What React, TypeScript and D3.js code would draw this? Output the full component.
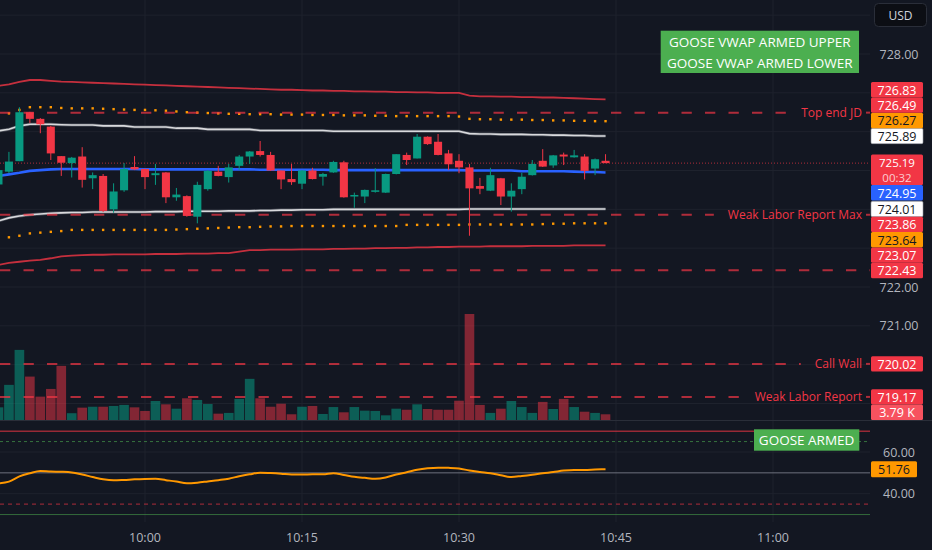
import * as d3 from "d3";

// 1-minute candles starting 09:46
const startMinute = "09:46";
const opens = [724.64, 724.97, 725.24, 726.5, 726.33, 726.13, 725.37, 725.19, 725.36, 724.8, 724.86, 724.0, 724.49, 725.09, 725.04, 724.88, 724.95, 724.31, 724.34, 723.81, 724.52, 724.97, 724.83, 725.12, 725.36, 725.5, 725.4, 725.0, 724.78, 724.66, 725.0, 724.84, 724.95, 725.21, 724.33, 724.33, 724.45, 724.43, 724.91, 725.4, 725.31, 725.87, 725.74, 725.44, 725.25, 725.08, 724.6, 724.48, 724.8, 724.33, 724.52, 724.88, 725.25, 725.13, 725.41, 725.34, 725.36, 725.05, 725.25];
const highs = [725.06, 725.48, 726.63, 726.51, 726.35, 726.15, 725.37, 725.35, 725.6, 724.95, 724.91, 724.67, 725.19, 725.37, 725.05, 725.17, 724.96, 724.55, 724.36, 724.71, 725.01, 725.12, 725.17, 725.4, 725.5, 725.76, 725.48, 725.0, 725.17, 725.01, 725.07, 724.94, 725.25, 725.25, 724.43, 724.51, 725.06, 724.92, 725.42, 725.46, 725.94, 725.88, 725.94, 725.53, 725.42, 725.17, 724.81, 725.07, 724.81, 724.67, 724.94, 725.27, 725.55, 725.4, 725.46, 725.53, 725.42, 725.31, 725.42];
const lows = [724.6, 724.93, 725.24, 726.22, 725.96, 725.27, 724.86, 724.82, 724.56, 724.52, 723.93, 723.91, 724.45, 725.01, 724.52, 724.63, 724.16, 724.22, 723.81, 723.64, 724.48, 724.85, 724.69, 725.01, 725.17, 725.36, 724.99, 724.52, 724.63, 724.52, 724.77, 724.61, 724.94, 724.3, 724.04, 724.16, 724.43, 724.42, 724.9, 725.14, 725.31, 725.66, 725.39, 725.01, 724.93, 723.32, 724.39, 724.47, 724.11, 723.94, 724.39, 724.87, 725.09, 725.07, 725.14, 725.33, 724.77, 724.88, 725.19];
const closes = [725.01, 725.23, 726.5, 726.33, 726.19, 725.44, 725.2, 725.33, 724.76, 724.88, 723.96, 724.46, 725.04, 725.03, 724.83, 724.93, 724.31, 724.38, 723.83, 724.63, 724.99, 724.86, 725.08, 725.36, 725.49, 725.4, 725.0, 724.77, 724.7, 725.0, 724.78, 724.91, 725.22, 724.31, 724.37, 724.5, 724.49, 724.91, 725.42, 725.27, 725.87, 725.68, 725.4, 725.16, 725.08, 724.54, 724.53, 724.88, 724.33, 724.48, 724.84, 725.17, 725.1, 725.39, 725.36, 725.39, 724.99, 725.29, 725.19];
// volume in thousands
const volumes = [8.4, 23.3, 46.5, 28.8, 15.5, 20.6, 35.9, 4.5, 8.2, 8.8, 8.8, 9.3, 10.0, 8.4, 6.0, 12.6, 10.4, 7.5, 14.4, 13.3, 10.6, 4.2, 4.7, 14.0, 27.3, 14.4, 8.8, 10.8, 3.8, 8.8, 9.3, 4.0, 8.6, 5.1, 8.6, 6.2, 6.0, 3.1, 7.5, 6.8, 10.4, 7.3, 6.8, 6.8, 12.8, 70.3, 10.0, 4.7, 7.5, 12.6, 8.6, 4.7, 12.0, 7.3, 14.0, 8.6, 5.5, 4.7, 3.79];

const vwap = [724.86, 724.9, 724.94, 724.99, 725.01, 725.03, 725.04, 725.04, 725.04, 725.04, 725.04, 725.04, 725.04, 725.04, 725.03, 725.03, 725.03, 725.03, 725.03, 725.03, 725.03, 725.03, 725.03, 725.03, 725.03, 725.02, 725.02, 725.02, 725.02, 725.02, 725.02, 725.02, 725.01, 725.01, 725.01, 725.01, 725.01, 725.01, 725.01, 725.01, 725.01, 725.01, 725.01, 725.01, 725.01, 725.0, 725.0, 725.0, 725.0, 725.0, 724.98, 724.98, 724.98, 724.98, 724.98, 724.97, 724.96, 724.96, 724.95];
const upperBand = [726.02, 726.06, 726.15, 726.19, 726.19, 726.19, 726.18, 726.17, 726.17, 726.17, 726.15, 726.15, 726.15, 726.12, 726.12, 726.12, 726.12, 726.09, 726.09, 726.09, 726.06, 726.06, 726.06, 726.06, 726.06, 726.03, 726.03, 726.03, 726.03, 726.03, 726.03, 726.03, 726.01, 726.01, 726.01, 726.01, 726.01, 726.01, 726.01, 726.01, 726.01, 726.01, 726.01, 726.01, 726.01, 725.95, 725.94, 725.94, 725.93, 725.93, 725.93, 725.92, 725.92, 725.91, 725.91, 725.9, 725.9, 725.89, 725.89];
const lowerBand = [723.7, 723.78, 723.83, 723.86, 723.88, 723.9, 723.91, 723.92, 723.92, 723.93, 723.93, 723.93, 723.93, 723.93, 723.93, 723.94, 723.94, 723.94, 723.95, 723.95, 723.95, 723.95, 723.96, 723.96, 723.96, 723.97, 723.97, 723.98, 723.98, 723.99, 723.99, 723.99, 724.0, 724.0, 724.0, 724.0, 724.0, 724.0, 724.0, 724.0, 724.0, 724.0, 724.0, 724.0, 724.0, 724.01, 724.01, 724.01, 724.01, 724.01, 724.01, 724.01, 724.01, 724.01, 724.01, 724.01, 724.01, 724.01, 724.01];
const upperOuter = [727.18, 727.22, 727.28, 727.33, 727.33, 727.31, 727.29, 727.28, 727.27, 727.26, 727.25, 727.24, 727.23, 727.22, 727.21, 727.2, 727.19, 727.18, 727.17, 727.16, 727.15, 727.14, 727.13, 727.12, 727.11, 727.1, 727.09, 727.08, 727.08, 727.07, 727.06, 727.06, 727.05, 727.05, 727.04, 727.04, 727.03, 727.03, 727.02, 727.02, 727.01, 727.01, 727.0, 727.0, 727.0, 726.93, 726.91, 726.91, 726.9, 726.9, 726.89, 726.89, 726.88, 726.88, 726.87, 726.86, 726.85, 726.84, 726.83];
const lowerOuter = [722.57, 722.62, 722.65, 722.68, 722.7, 722.74, 722.79, 722.81, 722.82, 722.83, 722.83, 722.84, 722.84, 722.84, 722.84, 722.85, 722.85, 722.85, 722.86, 722.86, 722.86, 722.87, 722.87, 722.91, 722.95, 722.95, 722.96, 722.96, 722.96, 722.97, 722.97, 722.97, 722.98, 722.98, 722.99, 722.99, 723.0, 723.0, 723.01, 723.01, 723.02, 723.02, 723.03, 723.03, 723.04, 723.04, 723.04, 723.05, 723.05, 723.05, 723.05, 723.06, 723.06, 723.06, 723.06, 723.07, 723.07, 723.07, 723.07];
const upperDots = [726.45, 726.47, 726.56, 726.63, 726.63, 726.63, 726.61, 726.6, 726.6, 726.6, 726.59, 726.58, 726.57, 726.56, 726.56, 726.55, 726.54, 726.52, 726.5, 726.49, 726.48, 726.47, 726.46, 726.46, 726.45, 726.45, 726.45, 726.44, 726.44, 726.44, 726.43, 726.43, 726.43, 726.42, 726.42, 726.42, 726.41, 726.41, 726.4, 726.4, 726.4, 726.4, 726.4, 726.4, 726.39, 726.33, 726.32, 726.32, 726.31, 726.31, 726.31, 726.3, 726.3, 726.29, 726.29, 726.28, 726.28, 726.27, 726.27];
const lowerDots = [723.26, 723.28, 723.32, 723.38, 723.4, 723.42, 723.44, 723.47, 723.47, 723.47, 723.47, 723.47, 723.47, 723.47, 723.47, 723.47, 723.47, 723.48, 723.49, 723.5, 723.51, 723.52, 723.53, 723.54, 723.54, 723.55, 723.56, 723.56, 723.57, 723.57, 723.57, 723.57, 723.57, 723.57, 723.57, 723.57, 723.57, 723.57, 723.57, 723.6, 723.6, 723.6, 723.6, 723.6, 723.6, 723.61, 723.61, 723.61, 723.61, 723.61, 723.61, 723.61, 723.62, 723.63, 723.63, 723.64, 723.64, 723.64, 723.64];
const rsi = [45.0, 45.8, 48.3, 49.8, 50.9, 50.6, 50.5, 50.2, 49.2, 48.0, 46.9, 46.4, 46.6, 46.9, 47.1, 47.2, 46.5, 45.8, 45.0, 45.3, 45.9, 46.5, 47.2, 48.4, 49.3, 50.1, 49.9, 49.6, 49.2, 49.2, 49.3, 49.3, 49.8, 49.0, 48.1, 47.6, 47.2, 47.8, 49.2, 50.3, 51.5, 52.2, 52.5, 52.4, 52.1, 51.1, 50.4, 49.8, 48.9, 48.0, 48.5, 49.1, 49.8, 50.4, 51.1, 51.4, 51.4, 51.6, 51.76];

const levelValues = [726.49, 723.86, 722.43, 720.02, 719.17];
const levelNames = ["Top end JD", "Weak Labor Report Max", "", "Call Wall", "Weak Labor Report"];
const rsiLevels = [70, 65, 50, 35, 30];
const rsiTicks = [60, 40];
const priceTicks = [719, 720, 721, 722, 723, 724, 725, 726, 727, 728, 729];
const timeTicks = ["10:00", "10:15", "10:30", "10:45", "11:00"];
const countdown = "00:32";

const BG = "#131722";
const GRID = "#1e222d";
const UP = "#089981";
const DOWN = "#F23645";
const ORANGE = "#FF9800";
const BLUE = "#2962FF";
const AXIS_TXT = "#B2B5BE";
const FONT = "'Open Sans', 'Noto Sans', sans-serif";
const PLOT_R = 870;
const MAIN_B = 420;
const RSI_B = 522;

const parse = d3.timeParse("%H:%M");
const t0 = parse(startMinute) as Date;
const times = opens.map((_, i) => d3.timeMinute.offset(t0, i));

const x = d3.scaleTime().domain([parse("10:00"), parse("10:15")] as Date[]).range([145, 302]);
const y = d3.scaleLinear().domain([722, 728]).range([287, 54]);
const yVol = d3.scaleLinear().domain([0, d3.max(volumes) as number]).range([MAIN_B, 314]);
const yRsi = d3.scaleLinear().domain([40, 60]).range([493.7, 452]);
const step = x(times[1]) - x(times[0]);

let ctx: CanvasRenderingContext2D | null = null;
function textWidth(s: string, font: string) {
  if (!ctx) ctx = document.createElement("canvas").getContext("2d");
  if (!ctx) return s.length * 6.3;
  ctx.font = font;
  return ctx.measureText(s).width;
}

const line = (vals: number[], sc: (v: number) => number, curve = d3.curveLinear) =>
  d3
    .line<number>()
    .x((_, i) => x(times[i]))
    .y((d) => sc(d))
    .curve(curve)(vals) as string;

const last = (a: number[]) => a[a.length - 1];

// price axis labels, stacked away from the pinned last-price label
type Lbl = { y: number; text: string; bg: string; fg: string; h: number; top?: number; pinned?: boolean; clampB?: number };
const LH = 15.4;
function buildLabels(): Lbl[] {
  const lbls: Lbl[] = [
    { y: y(last(upperOuter)), text: last(upperOuter).toFixed(2), bg: DOWN, fg: "#fff", h: LH },
    { y: y(levelValues[0]), text: levelValues[0].toFixed(2), bg: DOWN, fg: "#fff", h: LH },
    { y: y(last(upperDots)), text: last(upperDots).toFixed(2), bg: ORANGE, fg: "#131722", h: LH },
    { y: y(last(upperBand)), text: last(upperBand).toFixed(2), bg: "#ffffff", fg: "#131722", h: LH },
    { y: y(last(vwap)), text: last(vwap).toFixed(2), bg: BLUE, fg: "#fff", h: LH },
    { y: y(last(lowerBand)), text: last(lowerBand).toFixed(2), bg: "#ffffff", fg: "#131722", h: LH },
    { y: y(levelValues[1]), text: levelValues[1].toFixed(2), bg: DOWN, fg: "#fff", h: LH },
    { y: y(last(lowerDots)), text: last(lowerDots).toFixed(2), bg: ORANGE, fg: "#131722", h: LH },
    { y: y(last(lowerOuter)), text: last(lowerOuter).toFixed(2), bg: DOWN, fg: "#fff", h: LH },
    { y: y(levelValues[2]), text: levelValues[2].toFixed(2), bg: DOWN, fg: "#fff", h: LH },
    { y: y(levelValues[3]), text: levelValues[3].toFixed(2), bg: DOWN, fg: "#fff", h: LH },
    { y: y(levelValues[4]), text: levelValues[4].toFixed(2), bg: DOWN, fg: "#fff", h: LH },
    { y: yVol(last(volumes)), text: last(volumes).toFixed(2) + " K", bg: "#F7525F", fg: "#fff", h: LH, clampB: MAIN_B },
  ];
  const pin: Lbl = { y: y(last(closes)), text: last(closes).toFixed(2), bg: DOWN, fg: "#fff", h: 30.5, pinned: true };
  pin.top = pin.y - 8.6;
  const above = lbls.filter((l) => l.y < pin.y).sort((a, b) => b.y - a.y);
  const below = lbls.filter((l) => l.y >= pin.y).sort((a, b) => a.y - b.y);
  let lim = pin.top;
  for (const l of above) {
    l.top = Math.min(l.y - LH / 2, lim - l.h);
    lim = l.top;
  }
  lim = pin.top + pin.h;
  for (const l of below) {
    l.top = Math.max(l.y - LH / 2, lim);
    if (l.clampB !== undefined) l.top = Math.min(l.top, l.clampB - l.h);
    lim = l.top + l.h;
  }
  return [...above, pin, ...below];
}
const labels = buildLabels();
const tickVisible = (ty: number) =>
  ty > 32 && ty < MAIN_B - 6 && !labels.some((l) => ty > (l.top as number) - 5 && ty < (l.top as number) + l.h + 5);

const rsiLabel = { y: yRsi(last(rsi)), text: last(rsi).toFixed(2) };

export default function App() {
  const bodyW = step * 0.77;
  const volW = step * 0.92;
  const lvlFont = `12px ${FONT}`;
  return (
    <svg
      width={932}
      height={550}
      style={{ position: "absolute", left: 0, top: 0, display: "block", background: BG }}
      fontFamily={FONT}
    >
      <defs>
        <clipPath id="mainClip">
          <rect x={0} y={0} width={PLOT_R} height={MAIN_B} />
        </clipPath>
        <clipPath id="rsiClip">
          <rect x={0} y={MAIN_B + 1} width={PLOT_R} height={RSI_B - MAIN_B - 1} />
        </clipPath>
      </defs>
      <rect x={0} y={0} width={932} height={550} fill={BG} />

      {/* grid */}
      {timeTicks.map((t) => (
        <line key={t} x1={x(parse(t) as Date)} x2={x(parse(t) as Date)} y1={0} y2={RSI_B} stroke={GRID} />
      ))}
      {priceTicks.map((p) => (
        <line key={p} x1={0} x2={PLOT_R} y1={y(p)} y2={y(p)} stroke={GRID} />
      ))}
      {rsiTicks.map((r) => (
        <line key={r} x1={0} x2={PLOT_R} y1={yRsi(r)} y2={yRsi(r)} stroke={GRID} />
      ))}

      <g clipPath="url(#mainClip)">
        {/* volume */}
        {volumes.map((v, i) => (
          <rect
            key={i}
            x={x(times[i]) - volW / 2}
            y={yVol(v)}
            width={volW}
            height={MAIN_B - yVol(v)}
            fill={closes[i] >= opens[i] ? UP : DOWN}
            fillOpacity={closes[i] >= opens[i] ? 0.55 : 0.5}
          />
        ))}

        {/* outer bands */}
        <path d={line(upperOuter, y)} fill="none" stroke={DOWN} strokeOpacity={0.8} strokeWidth={1.8} />
        <path d={line(lowerOuter, y)} fill="none" stroke={DOWN} strokeOpacity={0.8} strokeWidth={1.8} />
        {upperDots.map((v, i) => (
          <rect key={"u" + i} x={x(times[i]) - 1.2} y={y(v) - 1.2} width={2.4} height={2.4} fill={ORANGE} />
        ))}
        {lowerDots.map((v, i) => (
          <rect key={"l" + i} x={x(times[i]) - 1.2} y={y(v) - 1.2} width={2.4} height={2.4} fill={ORANGE} />
        ))}
        <path d={line(upperBand, y)} fill="none" stroke="#4a4e58" strokeWidth={3} />
        <path d={line(upperBand, y)} fill="none" stroke="#d8d9dc" strokeWidth={1.6} />
        <path d={line(lowerBand, y)} fill="none" stroke="#4a4e58" strokeWidth={3} />
        <path d={line(lowerBand, y)} fill="none" stroke="#d8d9dc" strokeWidth={1.6} />

        {/* horizontal levels */}
        {levelValues.map((v, i) => {
          const name = levelNames[i];
          const w = name ? textWidth(name, lvlFont) : 0;
          const end = name ? 862 - w - 14 : PLOT_R;
          return (
            <g key={v}>
              <line x1={0} x2={end} y1={y(v)} y2={y(v)} stroke={DOWN} strokeOpacity={0.7} strokeWidth={2} strokeDasharray="10.3 13.2" />
              {name && (
                <>
                  <line x1={866} x2={PLOT_R} y1={y(v)} y2={y(v)} stroke={DOWN} strokeOpacity={0.7} strokeWidth={2} />
                  <text x={862} y={y(v)} textAnchor="end" dominantBaseline="central" fontSize={12} fill={DOWN}>
                    {name}
                  </text>
                </>
              )}
            </g>
          );
        })}

        {/* last price line */}
        <line
          x1={0}
          x2={PLOT_R}
          y1={y(last(closes))}
          y2={y(last(closes))}
          stroke={DOWN}
          strokeOpacity={0.7}
          strokeDasharray="1 2"
        />

        {/* vwap */}
        <path d={line(vwap, y)} fill="none" stroke={BLUE} strokeWidth={2.6} />

        {/* candles */}
        {opens.map((o, i) => {
          const c = closes[i];
          const col = c >= o ? UP : DOWN;
          const cx = x(times[i]);
          const top = y(Math.max(o, c));
          const bh = Math.max(1, y(Math.min(o, c)) - top);
          return (
            <g key={i}>
              <line x1={cx} x2={cx} y1={y(highs[i])} y2={y(lows[i])} stroke={col} strokeWidth={1} />
              <rect x={cx - bodyW / 2} y={top} width={bodyW} height={bh} fill={col} />
            </g>
          );
        })}
      </g>

      {/* pane separator */}
      <line x1={0} x2={932} y1={MAIN_B + 0.5} y2={MAIN_B + 0.5} stroke="#2a2e39" />

      {/* rsi pane */}
      <g clipPath="url(#rsiClip)">
        {rsiLevels.map((r, i) => {
          const st = [
            { c: DOWN, o: 0.6, w: 1.5, d: undefined },
            { c: "#4CAF50", o: 0.6, w: 1, d: "3 3" },
            { c: "#787B86", o: 0.9, w: 1, d: undefined },
            { c: DOWN, o: 0.55, w: 1.3, d: "4 4" },
            { c: "#4CAF50", o: 0.55, w: 1, d: undefined },
          ][i];
          return (
            <line
              key={r}
              x1={0}
              x2={PLOT_R}
              y1={yRsi(r)}
              y2={yRsi(r)}
              stroke={st.c}
              strokeOpacity={st.o}
              strokeWidth={st.w}
              strokeDasharray={st.d}
            />
          );
        })}
        <path d={line(rsi, yRsi, d3.curveMonotoneX)} fill="none" stroke={ORANGE} strokeWidth={2} />
      </g>

      {/* annotations */}
      <rect x={660.7} y={30.7} width={198.3} height={42.3} fill="#4CAF50" />
      <text x={759.8} y={42.3} textAnchor="middle" dominantBaseline="central" fontSize={13.5} fill="#fff">
        GOOSE VWAP ARMED UPPER
      </text>
      <text x={759.8} y={62.5} textAnchor="middle" dominantBaseline="central" fontSize={13.5} fill="#fff">
        GOOSE VWAP ARMED LOWER
      </text>
      <rect x={754} y={429.3} width={105.3} height={21.4} fill="#4CAF50" />
      <text x={806.6} y={440} textAnchor="middle" dominantBaseline="central" fontSize={13.5} fill="#fff">
        GOOSE ARMED
      </text>

      {/* price axis */}
      <rect x={874.5} y={3.5} width={52} height={23} rx={4} fill="#0c0e14" stroke="#2a2e39" />
      <text x={900.5} y={15.2} textAnchor="middle" dominantBaseline="central" fontSize={12} fill="#D1D4DC">
        USD
      </text>
      {priceTicks.filter((p) => tickVisible(y(p))).map((p) => (
        <text key={p} x={899} y={y(p)} textAnchor="middle" dominantBaseline="central" fontSize={12.5} fill={AXIS_TXT}>
          {p.toFixed(2)}
        </text>
      ))}
      {labels.map((l, i) => (
        <g key={i}>
          <rect x={871} y={l.top} width={52} height={l.h} rx={1.5} fill={l.bg} stroke={l.bg === "#ffffff" ? "#9598a1" : "none"} strokeWidth={0.6} />
          <text
            x={897}
            y={(l.top as number) + LH / 2 + 0.4}
            textAnchor="middle"
            dominantBaseline="central"
            fontSize={l.pinned ? 11.5 : 12.5}
            fill={l.fg}
          >
            {l.text}
          </text>
          {l.pinned && (
            <text x={897} y={(l.top as number) + 23.4} textAnchor="middle" dominantBaseline="central" fontSize={11.5} fill="#fff" fillOpacity={0.75}>
              {countdown}
            </text>
          )}
        </g>
      ))}
      {rsiTicks.map((r) => (
        <text key={r} x={899} y={yRsi(r)} textAnchor="middle" dominantBaseline="central" fontSize={12.5} fill={AXIS_TXT}>
          {r.toFixed(2)}
        </text>
      ))}
      <rect x={871} y={rsiLabel.y - 8} width={46} height={16} rx={1.5} fill={ORANGE} />
      <text x={894} y={rsiLabel.y + 0.4} textAnchor="middle" dominantBaseline="central" fontSize={12.5} fill="#131722">
        {rsiLabel.text}
      </text>

      {/* time axis */}
      {timeTicks.map((t) => (
        <text key={t} x={x(parse(t) as Date)} y={537} textAnchor="middle" dominantBaseline="central" fontSize={12.5} fill={AXIS_TXT}>
          {t}
        </text>
      ))}
    </svg>
  );
}
